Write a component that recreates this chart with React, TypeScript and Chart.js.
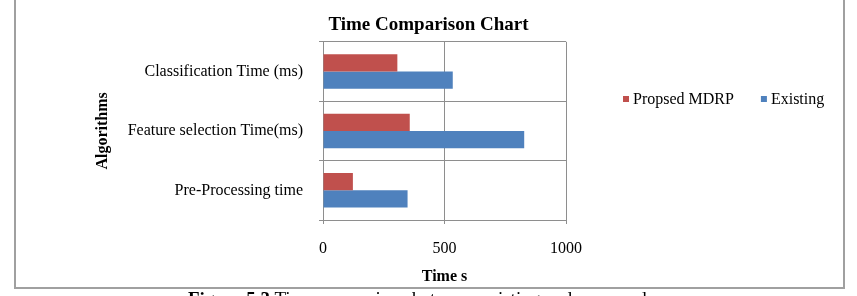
import React, { useEffect, useRef } from "react";
import { Chart, registerables } from "chart.js";

Chart.register(...registerables);

const categories = ["Classification Time (ms)", "Feature selection Time(ms)", "Pre-Processing time"];
const proposedValues = [306, 357, 123];
const existingValues = [534, 828, 348];
const seriesNames = ["Propsed MDRP", "Existing"];
const seriesColors = ["#C0504D", "#4F81BD"];
const xTicks = [0, 500, 1000];

const SERIF = "'Liberation Serif', 'Times New Roman', serif";
const GRID = "#8e8e8e";

const legendPlugin = {
  id: "customLegend",
  afterDraw(chart: any) {
    const ctx = chart.ctx;
    ctx.save();
    ctx.font = `16px ${SERIF}`;
    ctx.textBaseline = "middle";
    ctx.textAlign = "left";
    const y = 99;
    let x = 623;
    chart.data.datasets.forEach((ds: any) => {
      ctx.fillStyle = ds.backgroundColor;
      ctx.fillRect(x, y - 3, 6, 6);
      ctx.fillStyle = "#000";
      ctx.fillText(ds.label, x + 10, y + 1);
      x += 10 + ctx.measureText(ds.label).width + 27;
    });
    ctx.restore();
  },
};

export default function App() {
  const ref = useRef<HTMLCanvasElement>(null);

  useEffect(() => {
    if (!ref.current) return;
    const chart = new Chart(ref.current, {
      type: "bar",
      data: {
        labels: categories,
        datasets: [
          {
            label: seriesNames[0],
            data: proposedValues,
            backgroundColor: seriesColors[0],
            categoryPercentage: 0.58,
            barPercentage: 1,
          },
          {
            label: seriesNames[1],
            data: existingValues,
            backgroundColor: seriesColors[1],
            categoryPercentage: 0.58,
            barPercentage: 1,
          },
        ],
      },
      options: {
        indexAxis: "y",
        responsive: false,
        animation: false,
        layout: { padding: { left: 0, right: 0, top: 0, bottom: 0 } },
        plugins: {
          legend: { display: false },
          tooltip: { enabled: false },
          title: {
            display: true,
            text: "Time Comparison Chart",
            color: "#000",
            font: { family: SERIF, size: 19, weight: "bold" },
            padding: { top: 14, bottom: 5 },
          },
        },
        scales: {
          x: {
            min: 0,
            max: 1000,
            afterBuildTicks: (s: any) => {
              s.ticks = xTicks.map((v) => ({ value: v }));
            },
            afterFit: (s: any) => {
              s.height = 76;
            },
            ticks: {
              color: "#000",
              font: { family: SERIF, size: 16 },
              padding: 15,
              maxRotation: 0,
              callback: (v: any) => String(v),
            },
            grid: { color: GRID, tickLength: 4, lineWidth: 1 },
            border: { color: GRID, width: 1 },
            title: {
              display: true,
              text: "Time s",
              color: "#000",
              font: { family: SERIF, size: 16, weight: "bold" },
              padding: { top: 0, bottom: 10 },
            },
          },
          y: {
            afterFit: (s: any) => {
              s.width = 323;
            },
            ticks: { color: "#000", font: { family: SERIF, size: 16 }, padding: 16 },
            grid: { color: GRID, tickLength: 4, lineWidth: 1, offset: true },
            border: { color: GRID, width: 1 },
            title: {
              display: true,
              text: "Algorithms",
              color: "#000",
              font: { family: SERIF, size: 16, weight: "bold" },
              padding: { top: 93, bottom: 0 },
            },
          },
          yRight: {
            type: "linear",
            axis: "y",
            position: "right",
            display: true,
            afterFit: (s: any) => {
              s.width = 291;
            },
            ticks: { display: false },
            grid: { display: false, drawTicks: false },
            border: { display: false },
            title: { display: false },
          },
        },
      },
      plugins: [legendPlugin],
    });
    return () => chart.destroy();
  }, []);

  return (
    <div
      style={{
        position: "absolute",
        left: 0,
        top: 0,
        width: 857,
        height: 296,
        overflow: "hidden",
        background: "#fff",
      }}
    >
      <div
        style={{
          position: "absolute",
          left: 14,
          top: -4,
          width: 831,
          height: 293,
          boxSizing: "border-box",
          border: "2px solid #a0a0a0",
        }}
      />
      <canvas ref={ref} width={857} height={296} style={{ position: "absolute", left: 0, top: 0 }} />
      <div
        style={{
          position: "absolute",
          left: 188,
          top: 288,
          fontFamily: SERIF,
          fontSize: 19,
          lineHeight: 1.15,
          whiteSpace: "nowrap",
          color: "#000",
        }}
      >
        <b>Figure 5.3</b> Time comparison between existing and proposed
      </div>
    </div>
  );
}
